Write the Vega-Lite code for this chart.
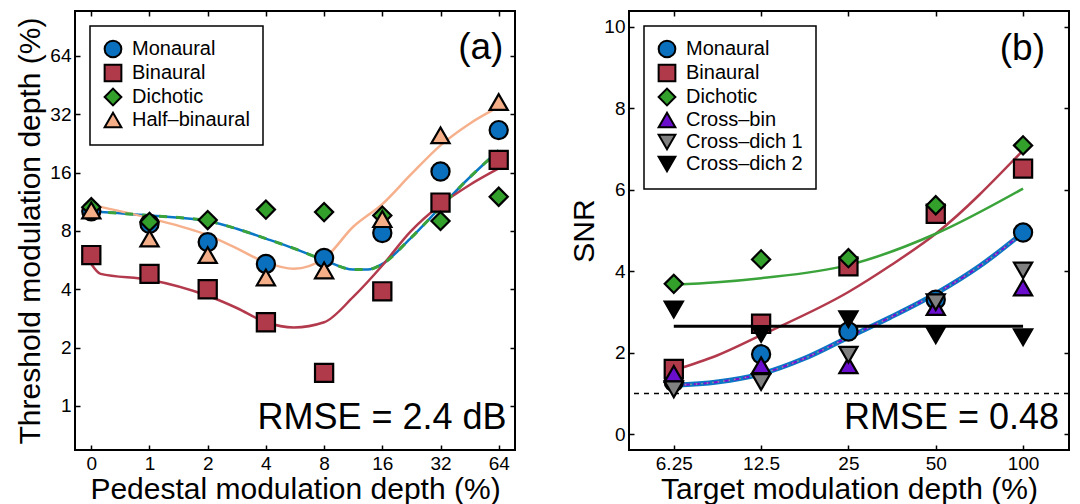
{
"$schema":"https://vega.github.io/schema/vega-lite/v6.json",
"padding":{"left":14,"top":9,"right":0,"bottom":0},
"background":"white",
"config":{
 "font":"Liberation Sans",
 "view":{"stroke":"black","strokeWidth":2},
 "axis":{"domain":false,"grid":false,"labelFontSize":19,"labelColor":"black","tickColor":"black","tickSize":-5,"tickWidth":1.5,"labelPadding":9,"titleFontSize":30,"titleFontWeight":"normal","titleColor":"black"},
 "legend":{"labelFontSize":20,"labelColor":"black","strokeColor":"black","fillColor":"white","padding":13,"rowPadding":-2,"symbolSize":280,"symbolStrokeWidth":2,"symbolStrokeColor":"black","labelOffset":9,"cornerRadius":0,"strokeWidth":1.5,"labelLimit":300}
},
"spacing":114,
"bounds":"flush",
"resolve":{"scale":{"color":"independent","shape":"independent","stroke":"independent"}},
"datasets":{
 "pa":[
  {"ped":0,"cond":"Monaural","thr":10.1},{"ped":1,"cond":"Monaural","thr":8.7},{"ped":2,"cond":"Monaural","thr":7.0},{"ped":3,"cond":"Monaural","thr":5.4},{"ped":4,"cond":"Monaural","thr":5.8},{"ped":5,"cond":"Monaural","thr":7.8},{"ped":6,"cond":"Monaural","thr":16.2},{"ped":7,"cond":"Monaural","thr":26.5},
  {"ped":0,"cond":"Binaural","thr":6.0},{"ped":1,"cond":"Binaural","thr":4.8},{"ped":2,"cond":"Binaural","thr":4.0},{"ped":3,"cond":"Binaural","thr":2.7},{"ped":4,"cond":"Binaural","thr":1.48},{"ped":5,"cond":"Binaural","thr":3.9},{"ped":6,"cond":"Binaural","thr":11.2},{"ped":7,"cond":"Binaural","thr":18.6},
  {"ped":0,"cond":"Dichotic","thr":10.6},{"ped":1,"cond":"Dichotic","thr":8.9},{"ped":2,"cond":"Dichotic","thr":9.1},{"ped":3,"cond":"Dichotic","thr":10.3},{"ped":4,"cond":"Dichotic","thr":10.0},{"ped":5,"cond":"Dichotic","thr":9.6},{"ped":6,"cond":"Dichotic","thr":9.0},{"ped":7,"cond":"Dichotic","thr":12.0},
  {"ped":0,"cond":"Half–binaural","thr":10.2},{"ped":1,"cond":"Half–binaural","thr":7.3},{"ped":2,"cond":"Half–binaural","thr":6.0},{"ped":3,"cond":"Half–binaural","thr":4.6},{"ped":4,"cond":"Half–binaural","thr":5.0},{"ped":5,"cond":"Half–binaural","thr":9.2},{"ped":6,"cond":"Half–binaural","thr":24.9},{"ped":7,"cond":"Half–binaural","thr":37}
 ],
 "ca":[
  {"ped":0,"cond":"Monaural","thr":10.1},{"ped":1,"cond":"Monaural","thr":9.6},{"ped":2,"cond":"Monaural","thr":9.0},{"ped":2.5,"cond":"Monaural","thr":8.2},{"ped":3,"cond":"Monaural","thr":7.3},{"ped":3.48,"cond":"Monaural","thr":6.5},{"ped":4,"cond":"Monaural","thr":5.65},{"ped":4.5,"cond":"Monaural","thr":5.05},{"ped":4.75,"cond":"Monaural","thr":5.05},{"ped":5,"cond":"Monaural","thr":5.4},{"ped":5.48,"cond":"Monaural","thr":7.3},{"ped":6,"cond":"Monaural","thr":10.6},{"ped":6.42,"cond":"Monaural","thr":14.3},{"ped":7,"cond":"Monaural","thr":20.8},
  {"ped":0,"cond":"Dichotic","thr":10.1},{"ped":1,"cond":"Dichotic","thr":9.6},{"ped":2,"cond":"Dichotic","thr":9.0},{"ped":2.5,"cond":"Dichotic","thr":8.2},{"ped":3,"cond":"Dichotic","thr":7.3},{"ped":3.48,"cond":"Dichotic","thr":6.5},{"ped":4,"cond":"Dichotic","thr":5.65},{"ped":4.5,"cond":"Dichotic","thr":5.05},{"ped":4.75,"cond":"Dichotic","thr":5.05},{"ped":5,"cond":"Dichotic","thr":5.4},{"ped":5.48,"cond":"Dichotic","thr":7.3},{"ped":6,"cond":"Dichotic","thr":10.6},{"ped":6.42,"cond":"Dichotic","thr":14.3},{"ped":7,"cond":"Dichotic","thr":20.8},
  {"ped":0,"cond":"Binaural","thr":5.4},{"ped":0.16,"cond":"Binaural","thr":4.8},{"ped":1,"cond":"Binaural","thr":4.48},{"ped":2,"cond":"Binaural","thr":3.7},{"ped":2.5,"cond":"Binaural","thr":3.2},{"ped":3,"cond":"Binaural","thr":2.7},{"ped":3.48,"cond":"Binaural","thr":2.54},{"ped":4,"cond":"Binaural","thr":2.7},{"ped":4.5,"cond":"Binaural","thr":3.65},{"ped":5,"cond":"Binaural","thr":5.3},{"ped":5.48,"cond":"Binaural","thr":7.9},{"ped":6,"cond":"Binaural","thr":10.9},{"ped":6.5,"cond":"Binaural","thr":13.8},{"ped":7,"cond":"Binaural","thr":16.8},
  {"ped":0,"cond":"Half–binaural","thr":10.9},{"ped":1,"cond":"Half–binaural","thr":9.3},{"ped":2,"cond":"Half–binaural","thr":7.6},{"ped":2.5,"cond":"Half–binaural","thr":6.5},{"ped":3,"cond":"Half–binaural","thr":5.5},{"ped":3.48,"cond":"Half–binaural","thr":5.1},{"ped":4,"cond":"Half–binaural","thr":5.76},{"ped":4.5,"cond":"Half–binaural","thr":8.4},{"ped":5,"cond":"Half–binaural","thr":11.0},{"ped":5.48,"cond":"Half–binaural","thr":15.5},{"ped":6,"cond":"Half–binaural","thr":22.1},{"ped":6.5,"cond":"Half–binaural","thr":28.6},{"ped":7,"cond":"Half–binaural","thr":34.9}
 ],
 "pb":[
  {"target":6.25,"cond":"Monaural","snr":1.28},{"target":12.5,"cond":"Monaural","snr":1.96},{"target":25,"cond":"Monaural","snr":2.52},{"target":50,"cond":"Monaural","snr":3.3},{"target":100,"cond":"Monaural","snr":4.95},
  {"target":6.25,"cond":"Binaural","snr":1.6},{"target":12.5,"cond":"Binaural","snr":2.71},{"target":25,"cond":"Binaural","snr":4.12},{"target":50,"cond":"Binaural","snr":5.41},{"target":100,"cond":"Binaural","snr":6.52},
  {"target":6.25,"cond":"Dichotic","snr":3.69},{"target":12.5,"cond":"Dichotic","snr":4.29},{"target":25,"cond":"Dichotic","snr":4.32},{"target":50,"cond":"Dichotic","snr":5.62},{"target":100,"cond":"Dichotic","snr":7.09},
  {"target":6.25,"cond":"Cross–bin","snr":1.48},{"target":12.5,"cond":"Cross–bin","snr":1.69},{"target":25,"cond":"Cross–bin","snr":1.69},{"target":50,"cond":"Cross–bin","snr":3.12},{"target":100,"cond":"Cross–bin","snr":3.6},
  {"target":6.25,"cond":"Cross–dich 1","snr":1.1},{"target":12.5,"cond":"Cross–dich 1","snr":1.28},{"target":25,"cond":"Cross–dich 1","snr":1.95},{"target":50,"cond":"Cross–dich 1","snr":3.24},{"target":100,"cond":"Cross–dich 1","snr":4.02},
  {"target":6.25,"cond":"Cross–dich 2","snr":3.06},{"target":12.5,"cond":"Cross–dich 2","snr":2.46},{"target":25,"cond":"Cross–dich 2","snr":2.82},{"target":50,"cond":"Cross–dich 2","snr":2.43},{"target":100,"cond":"Cross–dich 2","snr":2.38}
 ],
 "cb":[
  {"target":6.25,"cond":"Binaural","snr":1.57},{"target":8.81,"cond":"Binaural","snr":1.93},{"target":12.5,"cond":"Binaural","snr":2.43},{"target":25,"cond":"Binaural","snr":3.49},{"target":34.9,"cond":"Binaural","snr":4.14},{"target":50,"cond":"Binaural","snr":4.92},{"target":100,"cond":"Binaural","snr":6.97},
  {"target":6.25,"cond":"Dichotic","snr":3.67},{"target":8.81,"cond":"Dichotic","snr":3.73},{"target":12.5,"cond":"Dichotic","snr":3.83},{"target":25,"cond":"Dichotic","snr":4.15},{"target":50,"cond":"Dichotic","snr":4.92},{"target":100,"cond":"Dichotic","snr":6.03},
  {"target":6.25,"cond":"Cross–dich 2","snr":2.65},{"target":100,"cond":"Cross–dich 2","snr":2.65},
  {"target":6.25,"cond":"Monaural","snr":1.2},{"target":8.81,"cond":"Monaural","snr":1.28},{"target":12.5,"cond":"Monaural","snr":1.48},{"target":17.5,"cond":"Monaural","snr":1.85},{"target":25,"cond":"Monaural","snr":2.38},{"target":34.9,"cond":"Monaural","snr":2.87},{"target":50,"cond":"Monaural","snr":3.45},{"target":71.3,"cond":"Monaural","snr":4.14},{"target":100,"cond":"Monaural","snr":4.95},
  {"target":6.25,"cond":"Cross–bin","snr":1.2},{"target":8.81,"cond":"Cross–bin","snr":1.28},{"target":12.5,"cond":"Cross–bin","snr":1.48},{"target":17.5,"cond":"Cross–bin","snr":1.85},{"target":25,"cond":"Cross–bin","snr":2.38},{"target":34.9,"cond":"Cross–bin","snr":2.87},{"target":50,"cond":"Cross–bin","snr":3.45},{"target":71.3,"cond":"Cross–bin","snr":4.14},{"target":100,"cond":"Cross–bin","snr":4.95},
  {"target":6.25,"cond":"Cross–dich 1","snr":1.2},{"target":8.81,"cond":"Cross–dich 1","snr":1.28},{"target":12.5,"cond":"Cross–dich 1","snr":1.48},{"target":17.5,"cond":"Cross–dich 1","snr":1.85},{"target":25,"cond":"Cross–dich 1","snr":2.38},{"target":34.9,"cond":"Cross–dich 1","snr":2.87},{"target":50,"cond":"Cross–dich 1","snr":3.45},{"target":71.3,"cond":"Cross–dich 1","snr":4.14},{"target":100,"cond":"Cross–dich 1","snr":4.95}
 ]
},
"hconcat":[
 {
  "width":440,"height":439,
  "resolve":{"axis":{"x":"independent","y":"independent"}},
  "layer":[
   {"data":{"name":"ca"},"transform":[{"filter":"datum.cond != 'Dichotic'"}],
    "mark":{"type":"line","interpolate":"monotone","strokeWidth":2.5},
    "encoding":{
     "x":{"field":"ped","type":"quantitative","scale":{"domain":[-0.28,7.28],"nice":false,"zero":false},"axis":{"orient":"top","labels":false,"title":null,"values":[0,1,2,3,4,5,6,7]}},
     "y":{"field":"thr","type":"quantitative","scale":{"type":"log","base":2,"domain":[0.592,109.1],"nice":false},"axis":{"orient":"right","labels":false,"title":null,"values":[1,2,4,8,16,32,64]}},
     "stroke":{"field":"cond","type":"nominal","scale":{"domain":["Monaural","Binaural","Half–binaural"],"range":["#0a78c4","#b23a4c","#f6b08c"]},"legend":null}
    }},
   {"data":{"name":"ca"},"transform":[{"filter":"datum.cond == 'Dichotic'"}],
    "mark":{"type":"line","interpolate":"monotone","strokeWidth":3,"stroke":"#3aa33a","strokeDash":[8,9]},
    "encoding":{
     "x":{"field":"ped","type":"quantitative","scale":{"domain":[-0.28,7.28],"nice":false,"zero":false},"axis":null},
     "y":{"field":"thr","type":"quantitative","scale":{"type":"log","base":2,"domain":[0.592,109.1],"nice":false},"axis":null}
    }},
   {"data":{"name":"pa"},
    "mark":{"type":"point","filled":true,"stroke":"black","strokeWidth":2.2,"opacity":1,"size":330},
    "encoding":{
     "x":{"field":"ped","type":"quantitative","scale":{"domain":[-0.28,7.28],"nice":false,"zero":false},"axis":{"orient":"bottom","values":[0,1,2,3,4,5,6,7],"labelExpr":"['0','1','2','4','8','16','32','64'][datum.value]","title":"Pedestal modulation depth (%)","titlePadding":1}},
     "y":{"field":"thr","type":"quantitative","scale":{"type":"log","base":2,"domain":[0.592,109.1],"nice":false},"axis":{"orient":"left","values":[1,2,4,8,16,32,64],"format":"d","title":"Threshold modulation depth (%)","titlePadding":4}},
     "color":{"field":"cond","type":"nominal","scale":{"domain":["Monaural","Binaural","Dichotic","Half–binaural"],"range":["#0a70bd","#b13a4a","#33a02c","#f4ae88"]},"legend":{"orient":"top-left","offset":15,"title":null}},
     "shape":{"field":"cond","type":"nominal","scale":{"domain":["Monaural","Binaural","Dichotic","Half–binaural"],"range":["circle","square","diamond","triangle-up"]},"legend":{"orient":"top-left","offset":15,"title":null}}
    }},
   {"data":{"values":[{"label":"(a)"}]},
    "mark":{"type":"text","align":"right","baseline":"middle","fontSize":37,"color":"black"},
    "encoding":{
     "x":{"datum":7.08,"type":"quantitative","scale":{"domain":[-0.28,7.28],"nice":false,"zero":false},"axis":null},
     "y":{"datum":70.6,"type":"quantitative","scale":{"type":"log","base":2,"domain":[0.592,109.1],"nice":false},"axis":null},
     "text":{"field":"label"}
    }},
   {"data":{"values":[{"label":"RMSE = 2.4 dB"}]},
    "mark":{"type":"text","align":"right","baseline":"alphabetic","fontSize":36,"color":"black"},
    "encoding":{
     "x":{"datum":7.135,"type":"quantitative","scale":{"domain":[-0.28,7.28],"nice":false,"zero":false},"axis":null},
     "y":{"datum":0.762,"type":"quantitative","scale":{"type":"log","base":2,"domain":[0.592,109.1],"nice":false},"axis":null},
     "text":{"field":"label"}
    }}
  ]
 },
 {
  "width":440,"height":439,
  "resolve":{"axis":{"x":"independent","y":"independent"}},
  "layer":[
   {"data":{"values":[{"snr":1}]},
    "mark":{"type":"rule","strokeDash":[5,5],"strokeWidth":1.5,"color":"black"},
    "encoding":{
     "y":{"field":"snr","type":"quantitative","scale":{"domain":[-0.39,10.39],"nice":false,"zero":false},"axis":{"orient":"right","labels":false,"title":null,"values":[0,2,4,6,8,10]}}
    }},
   {"data":{"name":"cb"},"transform":[{"filter":"datum.cond == 'Binaural' || datum.cond == 'Dichotic'"}],
    "mark":{"type":"line","interpolate":"monotone","strokeWidth":2.5},
    "encoding":{
     "x":{"field":"target","type":"quantitative","scale":{"type":"log","domain":[4.38,144],"nice":false},"axis":{"orient":"top","labels":false,"title":null,"values":[6.25,12.5,25,50,100]}},
     "y":{"field":"snr","type":"quantitative","scale":{"domain":[-0.39,10.39],"nice":false,"zero":false},"axis":null},
     "stroke":{"field":"cond","type":"nominal","scale":{"domain":["Binaural","Dichotic"],"range":["#b23a4c","#3aa33a"]},"legend":null}
    }},
   {"data":{"name":"cb"},"transform":[{"filter":"datum.cond == 'Monaural'"}],
    "mark":{"type":"line","interpolate":"monotone","strokeWidth":5,"stroke":"#0a78c4"},
    "encoding":{
     "x":{"field":"target","type":"quantitative","scale":{"type":"log","domain":[4.38,144],"nice":false},"axis":null},
     "y":{"field":"snr","type":"quantitative","scale":{"domain":[-0.39,10.39],"nice":false,"zero":false},"axis":null}
    }},
   {"data":{"name":"cb"},"transform":[{"filter":"datum.cond == 'Cross–bin'"}],
    "mark":{"type":"line","interpolate":"monotone","strokeWidth":2,"stroke":"#7a10d8","strokeDash":[6,4]},
    "encoding":{
     "x":{"field":"target","type":"quantitative","scale":{"type":"log","domain":[4.38,144],"nice":false},"axis":null},
     "y":{"field":"snr","type":"quantitative","scale":{"domain":[-0.39,10.39],"nice":false,"zero":false},"axis":null}
    }},
   {"data":{"name":"cb"},"transform":[{"filter":"datum.cond == 'Cross–dich 1'"}],
    "mark":{"type":"line","interpolate":"monotone","strokeWidth":1.5,"stroke":"#999999","strokeDash":[1.5,4]},
    "encoding":{
     "x":{"field":"target","type":"quantitative","scale":{"type":"log","domain":[4.38,144],"nice":false},"axis":null},
     "y":{"field":"snr","type":"quantitative","scale":{"domain":[-0.39,10.39],"nice":false,"zero":false},"axis":null}
    }},
   {"data":{"name":"cb"},"transform":[{"filter":"datum.cond == 'Cross–dich 2'"}],
    "mark":{"type":"line","strokeWidth":3,"stroke":"black"},
    "encoding":{
     "x":{"field":"target","type":"quantitative","scale":{"type":"log","domain":[4.38,144],"nice":false},"axis":null},
     "y":{"field":"snr","type":"quantitative","scale":{"domain":[-0.39,10.39],"nice":false,"zero":false},"axis":null}
    }},
   {"data":{"name":"pb"},
    "mark":{"type":"point","filled":true,"stroke":"black","strokeWidth":2.2,"opacity":1,"size":330},
    "encoding":{
     "x":{"field":"target","type":"quantitative","scale":{"type":"log","domain":[4.38,144],"nice":false},"axis":{"orient":"bottom","values":[6.25,12.5,25,50,100],"format":"~g","title":"Target modulation depth (%)","titlePadding":1}},
     "y":{"field":"snr","type":"quantitative","scale":{"domain":[-0.39,10.39],"nice":false,"zero":false},"axis":{"orient":"left","values":[0,2,4,6,8,10],"title":"SNR","titlePadding":4}},
     "color":{"field":"cond","type":"nominal","scale":{"domain":["Monaural","Binaural","Dichotic","Cross–bin","Cross–dich 1","Cross–dich 2"],"range":["#0a70bd","#b13a4a","#33a02c","#6a0dcc","#808080","#000000"]},"legend":{"orient":"top-left","offset":15,"title":null}},
     "shape":{"field":"cond","type":"nominal","scale":{"domain":["Monaural","Binaural","Dichotic","Cross–bin","Cross–dich 1","Cross–dich 2"],"range":["circle","square","diamond","triangle-up","triangle-down","triangle-down"]},"legend":{"orient":"top-left","offset":15,"title":null}}
    }},
   {"data":{"values":[{"label":"(b)"}]},
    "mark":{"type":"text","align":"right","baseline":"middle","fontSize":37,"color":"black"},
    "encoding":{
     "x":{"datum":119,"type":"quantitative","scale":{"type":"log","domain":[4.38,144],"nice":false},"axis":null},
     "y":{"datum":9.45,"type":"quantitative","scale":{"domain":[-0.39,10.39],"nice":false,"zero":false},"axis":null},
     "text":{"field":"label"}
    }},
   {"data":{"values":[{"label":"RMSE = 0.48"}]},
    "mark":{"type":"text","align":"right","baseline":"alphabetic","fontSize":36,"color":"black"},
    "encoding":{
     "x":{"datum":133,"type":"quantitative","scale":{"type":"log","domain":[4.38,144],"nice":false},"axis":null},
     "y":{"datum":0.12,"type":"quantitative","scale":{"domain":[-0.39,10.39],"nice":false,"zero":false},"axis":null},
     "text":{"field":"label"}
    }}
  ]
 }
]
}
